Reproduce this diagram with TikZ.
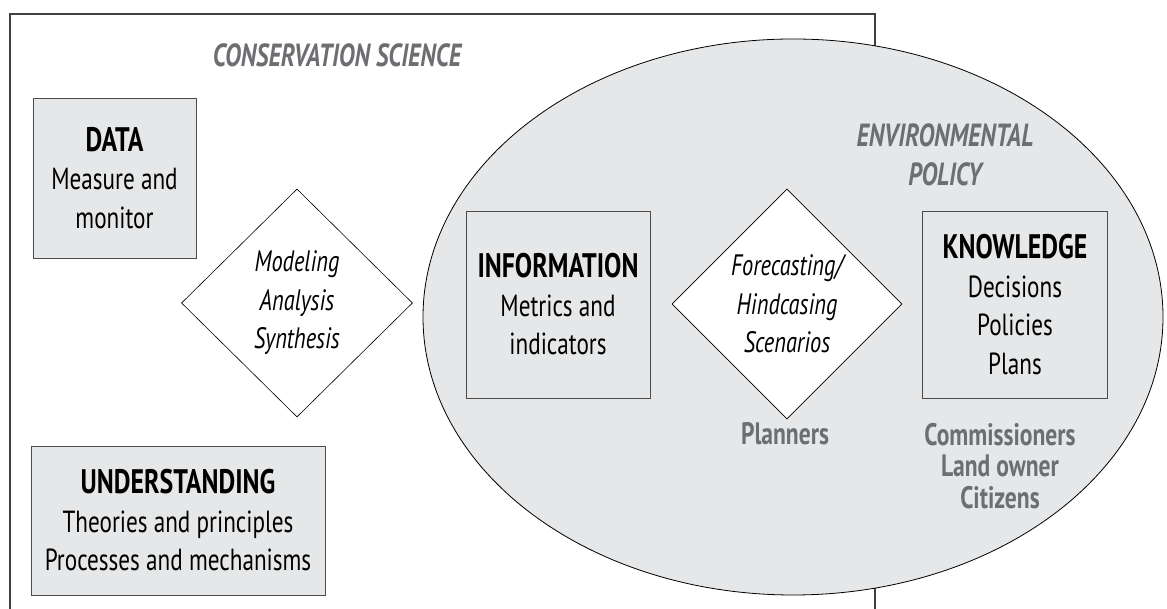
\documentclass[tikz,border=0pt]{standalone}
\usepackage{fontspec}
\setmainfont[FakeStretch=0.76]{PT Sans}
\usetikzlibrary{shapes.geometric, positioning}
\definecolor{boxgrey}{RGB}{230,231,232}
\definecolor{labelgrey}{RGB}{109,110,113}
\newcommand{\boxhead}[1]{{\fontsize{34}{38.5}\selectfont\bfseries #1}}
\tikzstyle{frame} = [draw=black!75, line width=1.1pt]
\tikzstyle{sphere} = [ellipse, draw=black, fill=boxgrey, line width=0.8pt, inner sep=0pt, minimum width=740pt, minimum height=556pt]
\tikzstyle{box} = [rectangle, draw=black!70, fill=boxgrey, line width=0.9pt, inner sep=0pt, align=center, font=\fontsize{30.5}{38.5}\selectfont]
\tikzstyle{method} = [diamond, draw=black, fill=white, line width=0.6pt, inner sep=0pt, align=center, font=\fontsize{29.5}{38.5}\selectfont\itshape]
\tikzstyle{area} = [text=labelgrey, align=center, font=\fontsize{32}{39}\selectfont\bfseries\itshape]
\tikzstyle{actor} = [text=labelgrey, align=center, font=\fontsize{31}{31.5}\selectfont\bfseries]

\begin{document}
\begin{tikzpicture}[x=1pt, y=1pt]
\useasboundingbox (0,0) rectangle (1167,609);
\fill[white] (0,0) rectangle (1167,609);

% science frame, open at the bottom
\coordinate (fbl) at (10,0);
\coordinate (fbr) at (875,0);
\draw[frame] (fbl) |- (875,595) -- (fbr);
\node (sci) [area] at (337,554) {CONSERVATION SCIENCE};

% policy sphere
\node (policy) [sphere] at (793,292) {};
\node (pol) [area] at (945,454) {ENVIRONMENTAL\\POLICY};

% science side
\node (data) [box, minimum width=163pt, minimum height=160pt] at (114.5,431) {\boxhead{DATA}\\Measure and\\monitor};
\node (model) [method, minimum width=231pt, minimum height=228pt] at (297,306) {Modeling\\Analysis\\Synthesis};
\node (under) [box, minimum width=294pt, minimum height=149pt] at (178,88.5) {\boxhead{UNDERSTANDING}\\Theories and principles\\Processes and mechanisms};

% policy side
\node (info) [box, minimum width=184pt, minimum height=187pt] at (558,304.5) {\boxhead{INFORMATION}\\Metrics and\\indicators};
\node (cast) [method, minimum width=230pt, minimum height=230pt] at (787,305) {Forecasting/\\Hindcasing\\Scenarios};
\node (know) [box, minimum width=184.5pt, minimum height=187pt] at (1015,304.5) {\boxhead{KNOWLEDGE}\\Decisions\\Policies\\Plans};

\node (plan) [actor] at (785,175) {Planners};
\node (users) [actor] at (1000,143) {Commissioners\\Land owner\\Citizens};
\end{tikzpicture}
\end{document}
